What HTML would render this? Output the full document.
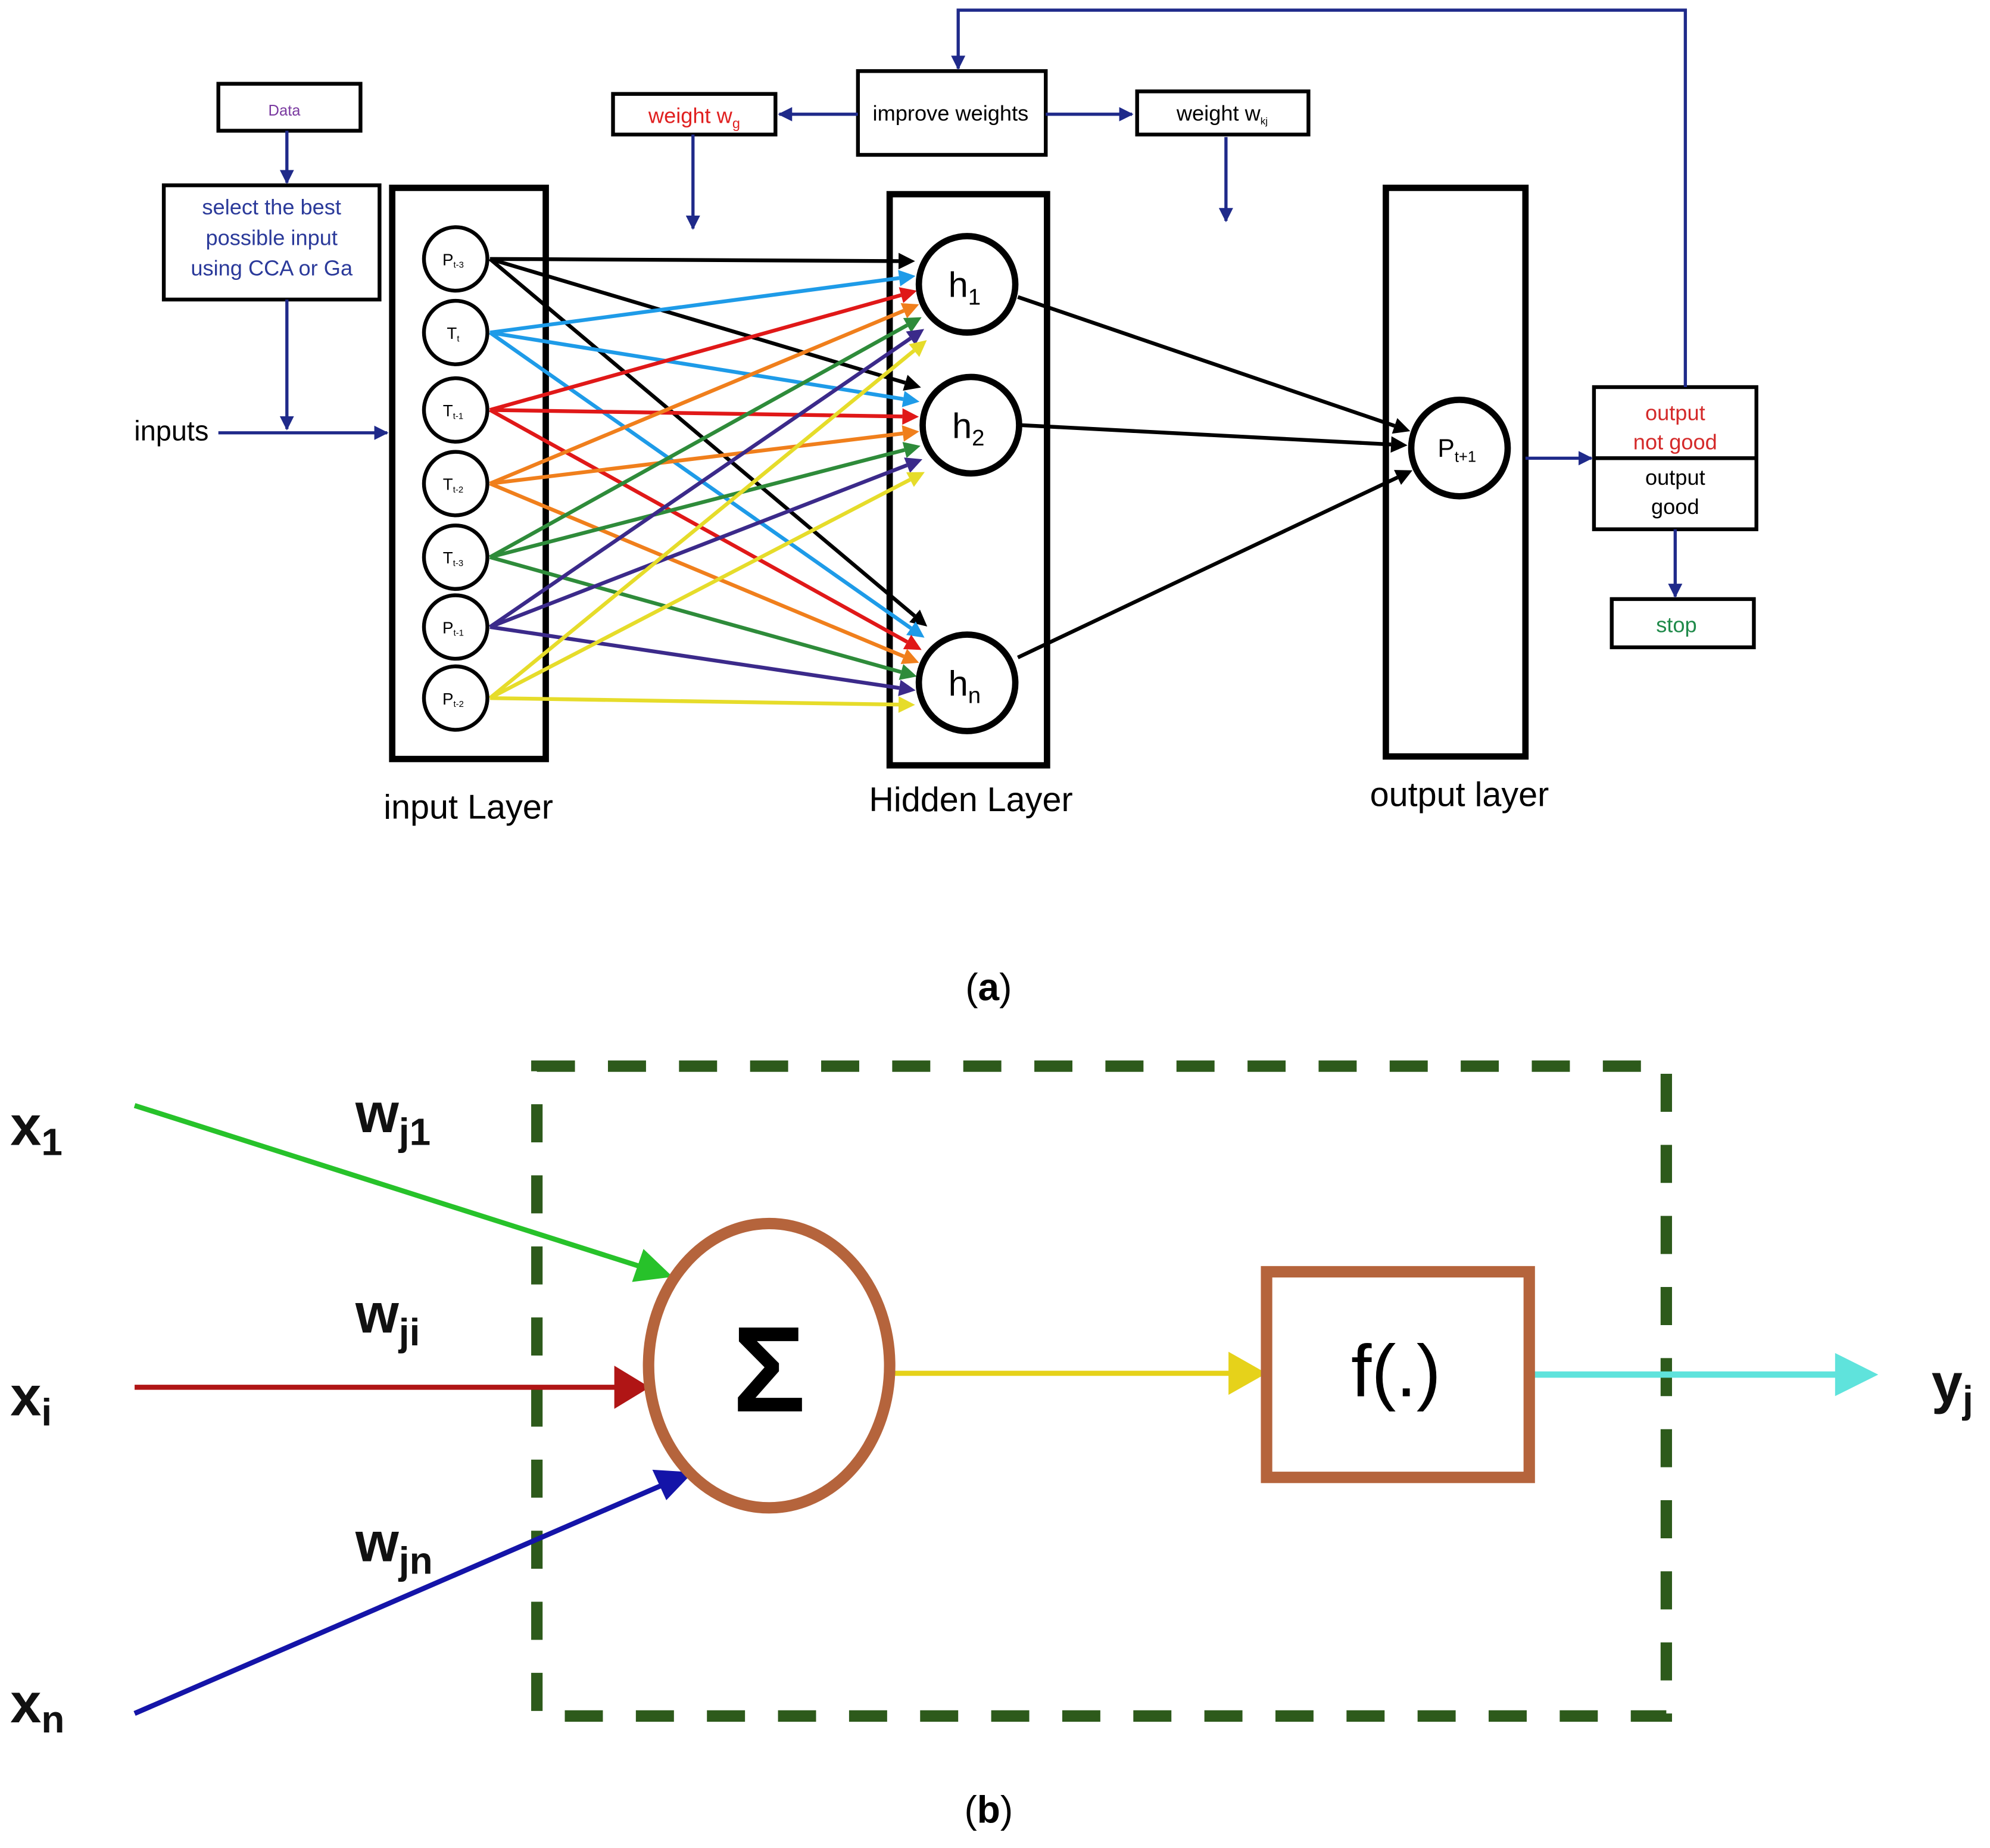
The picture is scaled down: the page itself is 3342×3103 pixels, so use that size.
<!DOCTYPE html>
<html><head><meta charset="utf-8"><style>
html,body{margin:0;padding:0;background:#fff}
svg{display:block}
text{font-family:"Liberation Sans",sans-serif}
</style></head><body>
<svg id="s" xmlns="http://www.w3.org/2000/svg" width="3342" height="3103" viewBox="0 0 1568 1456">
<defs>
<marker id="nv" viewBox="0 0 10 10" refX="9" refY="5" markerWidth="4.5" markerHeight="4.5" orient="auto" markerUnits="strokeWidth"><path d="M0,0L10,5L0,10z" fill="#1f2a8a"/></marker>
</defs>
<g fill="none" stroke="#000">
<rect x="172" y="66" width="112" height="37" stroke-width="3"/>
<rect x="129" y="146" width="170" height="90" stroke-width="3"/>
<rect x="483" y="74" width="128" height="32" stroke-width="3"/>
<rect x="676" y="56" width="148" height="66" stroke-width="3"/>
<rect x="896" y="72" width="135" height="34" stroke-width="3"/>
<rect x="309" y="148" width="121" height="450" stroke-width="5"/>
<rect x="701" y="153" width="124" height="450" stroke-width="5"/>
<rect x="1092" y="148" width="110" height="448" stroke-width="5"/>
<rect x="1256" y="305" width="128" height="112" stroke-width="3"/>
<line x1="1256" y1="361" x2="1384" y2="361" stroke-width="3"/>
<rect x="1270" y="472" width="112" height="38" stroke-width="3"/>
</g>
<g stroke="#1f2a8a" stroke-width="2.5" fill="none" marker-end="url(#nv)">
<line x1="226" y1="103" x2="226" y2="144"/>
<line x1="226" y1="236" x2="226" y2="338"/>
<line x1="172" y1="341" x2="305" y2="341"/>
<line x1="676" y1="90" x2="614" y2="90"/>
<line x1="824" y1="90" x2="892" y2="90"/>
<line x1="546" y1="106" x2="546" y2="180"/>
<line x1="966" y1="108" x2="966" y2="174"/>
<polyline points="1328,305 1328,8 755,8 755,54"/>
<line x1="1202" y1="361" x2="1254" y2="361"/>
<line x1="1320" y1="417" x2="1320" y2="470"/>
</g>
<g id="conn"></g>
<g fill="#fff" stroke="#000">
<circle cx="359" cy="204" r="25" stroke-width="3"/>
<circle cx="359" cy="262" r="25" stroke-width="3"/>
<circle cx="359" cy="323" r="25" stroke-width="3"/>
<circle cx="359" cy="381" r="25" stroke-width="3"/>
<circle cx="359" cy="439" r="25" stroke-width="3"/>
<circle cx="359" cy="494" r="25" stroke-width="3"/>
<circle cx="359" cy="550" r="25" stroke-width="3"/>
<circle cx="762" cy="224" r="38" stroke-width="5"/>
<circle cx="765" cy="335" r="38" stroke-width="5"/>
<circle cx="762" cy="538" r="38" stroke-width="5"/>
<circle cx="1150" cy="353" r="38" stroke-width="5"/>
</g>
<g font-size="13" text-anchor="middle">
<text x="357" y="209">P<tspan font-size="7" dy="2">t-3</tspan></text>
<text x="357" y="267">T<tspan font-size="7" dy="2">t</tspan></text>
<text x="357" y="328">T<tspan font-size="7" dy="2">t-1</tspan></text>
<text x="357" y="386">T<tspan font-size="7" dy="2">t-2</tspan></text>
<text x="357" y="444">T<tspan font-size="7" dy="2">t-3</tspan></text>
<text x="357" y="499">P<tspan font-size="7" dy="2">t-1</tspan></text>
<text x="357" y="555">P<tspan font-size="7" dy="2">t-2</tspan></text>
</g>
<g font-size="28" text-anchor="middle">
<text x="760" y="234">h<tspan font-size="18" dy="6">1</tspan></text>
<text x="763" y="345">h<tspan font-size="18" dy="6">2</tspan></text>
<text x="760" y="548">h<tspan font-size="18" dy="6">n</tspan></text>
<text x="1148" y="360" font-size="20">P<tspan font-size="12" dy="4">t+1</tspan></text>
</g>
<g font-size="17" text-anchor="middle">
<text x="224" y="91" font-size="12" fill="#7a3aa0">Data</text>
<text x="214" y="169" fill="#2b3a9a">select the best</text>
<text x="214" y="193" fill="#2b3a9a">possible input</text>
<text x="214" y="217" fill="#2b3a9a">using CCA or Ga</text>
<text x="547" y="97" fill="#e02020">weight w<tspan font-size="11" dy="4">g</tspan></text>
<text x="749" y="95">improve weights</text>
<text x="963" y="95">weight w<tspan font-size="8" dy="3">kj</tspan></text>
<text x="1320" y="331" fill="#d42a2a">output</text>
<text x="1320" y="354" fill="#d42a2a">not good</text>
<text x="1320" y="382">output</text>
<text x="1320" y="405">good</text>
<text x="1321" y="498" fill="#1f8a4a">stop</text>
<text x="135" y="347" font-size="22">inputs</text>
<text x="369" y="645" font-size="27">input Layer</text>
<text x="765" y="639" font-size="27">Hidden Layer</text>
<text x="1150" y="635" font-size="27">output layer</text>
</g>
<text x="779" y="788" font-size="30" text-anchor="middle" font-family="Liberation Serif,serif">(<tspan font-weight="bold">a</tspan>)</text>
<text x="779" y="1436" font-size="30" text-anchor="middle" font-family="Liberation Serif,serif">(<tspan font-weight="bold">b</tspan>)</text>
<rect x="423" y="840" width="890" height="512" fill="none" stroke="#2d5a1b" stroke-width="9" stroke-dasharray="30,26"/>
<g stroke-width="4">
<line x1="106" y1="871" x2="505" y2="998" stroke="#27c22a"/>
<polygon points="530,1006 498,1010 507,984" fill="#27c22a"/>
<line x1="106" y1="1093" x2="485" y2="1093" stroke="#b01515"/>
<polygon points="512,1093 484,1076 484,1110" fill="#b01515"/>
<line x1="106" y1="1350" x2="522" y2="1170" stroke="#1414a8"/>
<polygon points="546,1160 525,1182 514,1158" fill="#1414a8"/>
<line x1="705" y1="1082" x2="970" y2="1082" stroke="#e6d21a"/>
<polygon points="998,1082 968,1065 968,1099" fill="#e6d21a"/>
<line x1="1207" y1="1083" x2="1450" y2="1083" stroke="#5fe3dc" stroke-width="5"/>
<polygon points="1480,1083 1446,1066 1446,1100" fill="#5fe3dc"/>
</g>
<ellipse cx="606" cy="1076" rx="95" ry="112" fill="#fff" stroke="#b5643c" stroke-width="9"/>
<rect x="998" y="1002" width="207" height="162" fill="#fff" stroke="#b5643c" stroke-width="9"/>
<text x="606" y="1112" font-size="96" text-anchor="middle" font-weight="bold">Σ</text>
<text x="1100" y="1100" font-size="58" text-anchor="middle">f(.)</text>
<g font-size="44" font-weight="bold" fill="#111">
<text x="8" y="902">x<tspan font-size="30" dy="8">1</tspan></text>
<text x="8" y="1115">x<tspan font-size="30" dy="8">i</tspan></text>
<text x="8" y="1357">x<tspan font-size="30" dy="8">n</tspan></text>
<text x="280" y="892">w<tspan font-size="30" dy="10">j1</tspan></text>
<text x="280" y="1050">w<tspan font-size="30" dy="10">ji</tspan></text>
<text x="280" y="1230">w<tspan font-size="30" dy="10">jn</tspan></text>
<text x="1522" y="1105">y<tspan font-size="30" dy="8">j</tspan></text>
</g>
</svg>
<script>
(function(){
var NS="http://www.w3.org/2000/svg";
var g=document.getElementById("conn");
var ins=[204,262,323,381,439,494,550];
var cols=["#000","#1e9be8","#e01818","#f07f1c","#2e8b3a","#3b2a8a","#e6dc2a"];
var hs=[[762,224],[765,335],[762,538]];
function arrow(x1,y1,x2,y2,c,w){
 var dx=x2-x1,dy=y2-y1,L=Math.sqrt(dx*dx+dy*dy),ux=dx/L,uy=dy/L;
 var bx=x2-ux*13,by=y2-uy*13;
 var l=document.createElementNS(NS,"line");
 l.setAttribute("x1",x1);l.setAttribute("y1",y1);l.setAttribute("x2",bx);l.setAttribute("y2",by);
 l.setAttribute("stroke",c);l.setAttribute("stroke-width",w);g.appendChild(l);
 var p=document.createElementNS(NS,"polygon");
 p.setAttribute("points",x2+","+y2+" "+(bx-uy*6.5)+","+(by+ux*6.5)+" "+(bx+uy*6.5)+","+(by-ux*6.5));
 p.setAttribute("fill",c);g.appendChild(p);
}
for(var i=0;i<7;i++){for(var j=0;j<3;j++){
 var x1=386,y1=ins[i],cx=hs[j][0],cy=hs[j][1]+(i-3)*6;
 var dx=cx-x1,dy=cy-y1,L=Math.sqrt(dx*dx+dy*dy);
 var r=41;
 arrow(x1,y1,cx-dx/L*r,cy-dy/L*r,cols[i],3);
}}
var P=[1150,353];
hs.forEach(function(h){
 var x1=h[0]+40,y1=h[1]+(h[1]<300?10:(h[1]>400?-20:0));
 var dx=P[0]-x1,dy=P[1]-y1,L=Math.sqrt(dx*dx+dy*dy);
 arrow(x1,y1,P[0]-dx/L*41,P[1]-dy/L*41,"#000",3);
});
})();
</script>
</body></html>
